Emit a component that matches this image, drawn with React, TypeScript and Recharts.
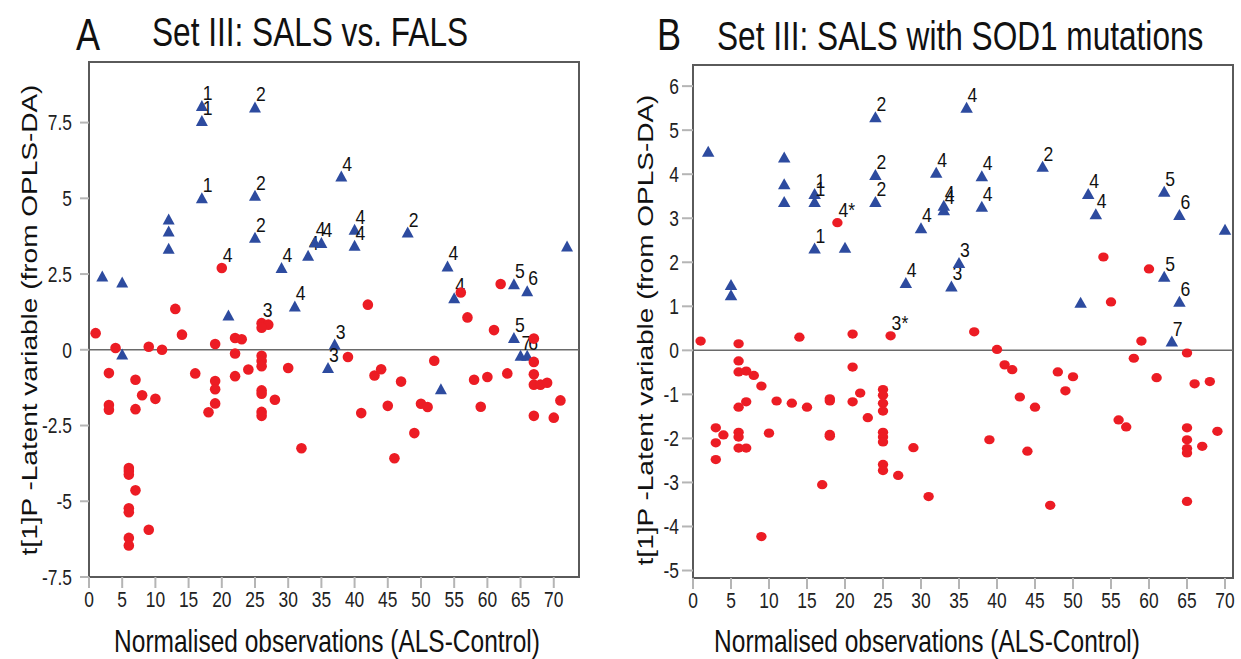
import {
  ReferenceArea,
  ReferenceLine,
  Scatter,
  ScatterChart,
  XAxis,
  YAxis,
} from "recharts";

const BLUE = "#2d4b9f";
const RED = "#ec1c24";
const FONT = "'Liberation Sans', Arial, sans-serif";

// [observation, t[1]P, label]
const setATriangles: [number, number, string][] = [
  [2, 2.42, ""], [5, 2.22, ""], [5, -0.16, ""], [12, 4.3, ""], [12, 3.9, ""],
  [12, 3.33, ""], [17, 8.05, "1"], [17, 7.55, "1"], [17, 5.0, "1"],
  [25, 8.0, "2"], [25, 5.08, "2"], [25, 3.7, "2"], [21, 1.13, ""],
  [29, 2.7, "4"], [33, 3.1, "4"], [34, 3.55, "4"], [35, 3.52, "4"],
  [31, 1.43, "4"], [38, 5.72, "4"], [40, 3.96, "4"], [40, 3.43, "4"],
  [48, 3.87, "2"], [54, 2.75, "4"], [55, 1.7, "4"], [64, 2.16, "5"],
  [66, 1.93, "6"], [72, 3.41, ""], [64, 0.39, "5"], [65, -0.2, "7"],
  [66, -0.2, "6"], [37, 0.17, "3"], [36, -0.6, "3"], [53, -1.3, ""],
];

const setACircles: [number, number, string][] = [
  [1, 0.55, ""], [4, 0.06, ""], [9, 0.1, ""], [11, 0, ""], [13, 1.35, ""],
  [14, 0.5, ""], [19, 0.19, ""], [22, 0.39, ""], [23, 0.35, ""],
  [22, -0.12, ""], [26, 0.88, "3"], [27, 0.83, ""], [26, 0.73, ""],
  [26, -0.2, ""], [26, -0.37, ""], [26, -0.54, ""], [20, 2.7, "4"],
  [3, -0.77, ""], [7, -0.99, ""], [8, -1.5, ""], [10, -1.62, ""],
  [3, -1.82, ""], [3, -1.98, ""], [7, -1.96, ""], [16, -0.78, ""],
  [19, -1.03, ""], [19, -1.3, ""], [19, -1.77, ""], [18, -2.06, ""],
  [22, -0.87, ""], [24, -0.65, ""], [26, -1.34, ""], [26, -1.45, ""],
  [26, -2.05, ""], [26, -2.18, ""], [28, -1.65, ""], [30, -0.6, ""],
  [32, -3.25, ""], [6, -3.9, ""], [6, -4.0, ""], [6, -4.12, ""],
  [7, -4.64, ""], [6, -5.23, ""], [6, -5.36, ""], [9, -5.94, ""],
  [6, -6.21, ""], [6, -6.46, ""], [39, -0.24, ""], [43, -0.85, ""],
  [44, -0.64, ""], [47, -1.05, ""], [41, -2.09, ""], [45, -1.85, ""],
  [50, -1.78, ""], [51, -1.89, ""], [49, -2.75, ""], [46, -3.58, ""],
  [52, -0.36, ""], [58, -0.99, ""], [60, -0.9, ""], [59, -1.88, ""],
  [63, -0.78, ""], [67, -0.4, ""], [67, -0.81, ""], [67, -1.15, ""],
  [68, -1.15, ""], [69, -1.09, ""], [71, -1.67, ""], [67, -2.18, ""],
  [70, -2.24, ""], [42, 1.49, ""], [56, 1.89, ""], [57, 1.07, ""],
  [61, 0.65, ""], [62, 2.17, ""], [67, 0.37, ""],
];

const setBTriangles: [number, number, string][] = [
  [2, 4.51, ""], [5, 1.48, ""], [5, 1.25, ""], [12, 4.38, ""], [12, 3.77, ""],
  [12, 3.37, ""], [16, 3.55, "1"], [16, 3.37, "1"], [16, 2.31, "1"],
  [20, 2.33, ""], [24, 5.29, "2"], [24, 3.98, "2"], [24, 3.37, "2"],
  [32, 4.03, "4"], [33, 3.18, "4"], [33, 3.28, "4"], [30, 2.77, "4"],
  [28, 1.53, "4"], [34, 1.45, "3"], [35, 1.98, "3"], [36, 5.51, "4"],
  [38, 3.95, "4"], [38, 3.26, "4"], [46, 4.17, "2"], [52, 3.55, "4"],
  [53, 3.09, "4"], [51, 1.08, ""], [62, 3.6, "5"], [64, 3.07, "6"],
  [70, 2.74, ""], [62, 1.67, "5"], [64, 1.1, "6"], [63, 0.2, "7"],
];

const setBCircles: [number, number, string][] = [
  [1, 0.21, ""], [6, 0.15, ""], [14, 0.3, ""], [21, 0.37, ""],
  [26, 0.33, "3*"], [19, 2.9, "4*"], [6, -0.24, ""], [6, -0.49, ""],
  [7, -0.47, ""], [8, -0.57, ""], [9, -0.81, ""], [6, -1.29, ""],
  [7, -1.17, ""], [3, -1.76, ""], [4, -1.92, ""], [3, -2.1, ""],
  [3, -2.48, ""], [6, -1.86, ""], [6, -1.97, ""], [6, -2.22, ""],
  [7, -2.22, ""], [10, -1.88, ""], [11, -1.15, ""], [13, -1.2, ""],
  [15, -1.29, ""], [18, -1.1, ""], [18, -1.15, ""], [18, -1.91, ""],
  [18, -1.95, ""], [21, -0.38, ""], [21, -1.17, ""], [22, -0.97, ""],
  [23, -1.53, ""], [25, -0.89, ""], [25, -1.02, ""], [25, -1.2, ""],
  [25, -1.38, ""], [25, -1.86, ""], [25, -1.97, ""], [25, -2.08, ""],
  [25, -2.59, ""], [25, -2.73, ""], [27, -2.84, ""], [29, -2.21, ""],
  [31, -3.32, ""], [17, -3.05, ""], [9, -4.23, ""], [37, 0.42, ""],
  [40, 0.02, ""], [41, -0.33, ""], [42, -0.44, ""], [43, -1.06, ""],
  [45, -1.29, ""], [39, -2.03, ""], [44, -2.29, ""], [48, -0.49, ""],
  [50, -0.6, ""], [49, -0.92, ""], [47, -3.52, ""], [59, 0.21, ""],
  [58, -0.18, ""], [65, -0.06, ""], [61, -0.62, ""], [66, -0.76, ""],
  [68, -0.71, ""], [56, -1.58, ""], [57, -1.74, ""], [65, -1.76, ""],
  [65, -2.03, ""], [65, -2.23, ""], [65, -2.33, ""], [69, -1.84, ""],
  [67, -2.18, ""], [65, -3.43, ""], [54, 2.12, ""], [60, 1.85, ""],
  [55, 1.1, ""],
];

const xTicks = [0, 5, 10, 15, 20, 25, 30, 35, 40, 45, 50, 55, 60, 65, 70];
const yTicksA = [-7.5, -5, -2.5, 0, 2.5, 5, 7.5];
const yTicksB = [-5, -4, -3, -2, -1, 0, 1, 2, 3, 4, 5, 6];

const toRows = (list: [number, number, string][]) =>
  list.map(([x, y, label]) => ({ x, y, label }));

const PointLabel = ({ cx, cy, text }: { cx: number; cy: number; text: string }) =>
  text ? (
    <text
      transform={`translate(${cx + 1},${cy - 6}) scale(0.88,1)`}
      fontSize={20}
      fontFamily={FONT}
      fill="#111"
    >
      {text}
    </text>
  ) : null;

const makeTriangle = (w: number, h: number) => (props: any) => {
  const { cx, cy, payload } = props;
  const pts = `${cx},${cy - h * 0.55} ${cx + w / 2},${cy + h * 0.45} ${cx - w / 2},${cy + h * 0.45}`;
  return (
    <g>
      <polygon points={pts} fill={BLUE} />
      <PointLabel cx={cx} cy={cy} text={payload.label} />
    </g>
  );
};

const makeCircle = (rx: number, ry: number) => (props: any) => {
  const { cx, cy, payload } = props;
  return (
    <g>
      <ellipse cx={cx} cy={cy} rx={rx} ry={ry} fill={RED} />
      <PointLabel cx={cx} cy={cy} text={payload.label} />
    </g>
  );
};

const XTick = (props: any) => {
  const { x, y, payload } = props;
  return (
    <g transform={`translate(${x},${y}) scale(0.79,1)`}>
      <text textAnchor="middle" dy="0.71em" fontSize={22} fontFamily={FONT} fill="#222">
        {payload.value}
      </text>
    </g>
  );
};

const YTick = (props: any) => {
  const { x, y, payload } = props;
  return (
    <g transform={`translate(${x},${y}) scale(0.79,1)`}>
      <text textAnchor="end" dy="0.355em" fontSize={22} fontFamily={FONT} fill="#222">
        {payload.value}
      </text>
    </g>
  );
};

type PanelProps = {
  left: number;
  width: number;
  margin: { top: number; right: number; bottom: number; left: number };
  yWidth: number;
  xDomain: [number, number];
  yDomain: [number, number];
  yTicks: number[];
  yTickSize: number;
  yTickMargin: number;
  triangles: [number, number, string][];
  circles: [number, number, string][];
  tri: [number, number];
  dot: [number, number];
};

const Panel = (p: PanelProps) => (
  <div style={{ position: "absolute", left: p.left, top: 0 }}>
    <ScatterChart width={p.width} height={659} margin={p.margin}>
      <XAxis
        type="number"
        dataKey="x"
        domain={p.xDomain}
        ticks={xTicks}
        allowDataOverflow
        height={30}
        axisLine={false}
        tickSize={11}
        tickMargin={3}
        tickLine={{ stroke: "#b5b5b5", strokeWidth: 2 }}
        tick={<XTick />}
      />
      <YAxis
        type="number"
        dataKey="y"
        domain={p.yDomain}
        ticks={p.yTicks}
        allowDataOverflow
        width={p.yWidth}
        axisLine={false}
        tickSize={p.yTickSize}
        tickMargin={p.yTickMargin}
        tickLine={{ stroke: "#b5b5b5", strokeWidth: 2 }}
        tick={<YTick />}
      />
      <ReferenceLine y={0} stroke="#6a6a6a" strokeWidth={1.5} />
      <ReferenceArea
        x1={p.xDomain[0]}
        x2={p.xDomain[1]}
        y1={p.yDomain[0]}
        y2={p.yDomain[1]}
        fill="none"
        fillOpacity={0}
        stroke="#5a5a5a"
        strokeWidth={2}
      />
      <Scatter
        data={toRows(p.triangles)}
        shape={makeTriangle(p.tri[0], p.tri[1])}
        isAnimationActive={false}
      />
      <Scatter
        data={toRows(p.circles)}
        shape={makeCircle(p.dot[0], p.dot[1])}
        isAnimationActive={false}
      />
    </ScatterChart>
  </div>
);

export default function App() {
  return (
    <div
      style={{
        position: "absolute",
        left: 0,
        top: 0,
        width: 1241,
        height: 659,
        background: "#fff",
        overflow: "hidden",
      }}
    >
      <Panel
        left={0}
        width={600}
        margin={{ top: 62, right: 21, bottom: 52, left: 29 }}
        yWidth={60}
        xDomain={[0, 73.8]}
        yDomain={[-7.5, 9.5]}
        yTicks={yTicksA}
        yTickSize={9}
        yTickMargin={8}
        triangles={setATriangles}
        circles={setACircles}
        tri={[12, 11]}
        dot={[5.3, 5.3]}
      />
      <Panel
        left={620}
        width={621}
        margin={{ top: 65, right: 8, bottom: 51, left: 33 }}
        yWidth={40}
        xDomain={[0, 71.05]}
        yDomain={[-5.17, 6.48]}
        yTicks={yTicksB}
        yTickSize={11}
        yTickMargin={3}
        triangles={setBTriangles}
        circles={setBCircles}
        tri={[12.5, 11]}
        dot={[5.2, 4.6]}
      />
      <svg
        width={1241}
        height={659}
        style={{ position: "absolute", left: 0, top: 0, pointerEvents: "none" }}
        fontFamily={FONT}
        fill="#111"
      >
        <text transform="translate(76,50) scale(0.82,1)" fontSize={44}>A</text>
        <text transform="translate(152,46) scale(0.79,1)" fontSize={40}>
          Set III: SALS vs. FALS
        </text>
        <text transform="translate(657,50) scale(0.82,1)" fontSize={44}>B</text>
        <text transform="translate(717,50) scale(0.79,1)" fontSize={40}>
          Set III: SALS with SOD1 mutations
        </text>
        <text transform="translate(327,652) scale(0.79,1)" fontSize={31} textAnchor="middle">
          Normalised observations (ALS-Control)
        </text>
        <text transform="translate(927,652) scale(0.79,1)" fontSize={31} textAnchor="middle">
          Normalised observations (ALS-Control)
        </text>
        <text transform="translate(37,320) rotate(-90) scale(1,0.76)" fontSize={28} textAnchor="middle">
          t[1]P -Latent variable (from OPLS-DA)
        </text>
        <text transform="translate(653,330) rotate(-90) scale(1,0.76)" fontSize={28} textAnchor="middle">
          t[1]P -Latent variable (from OPLS-DA)
        </text>
      </svg>
    </div>
  );
}
